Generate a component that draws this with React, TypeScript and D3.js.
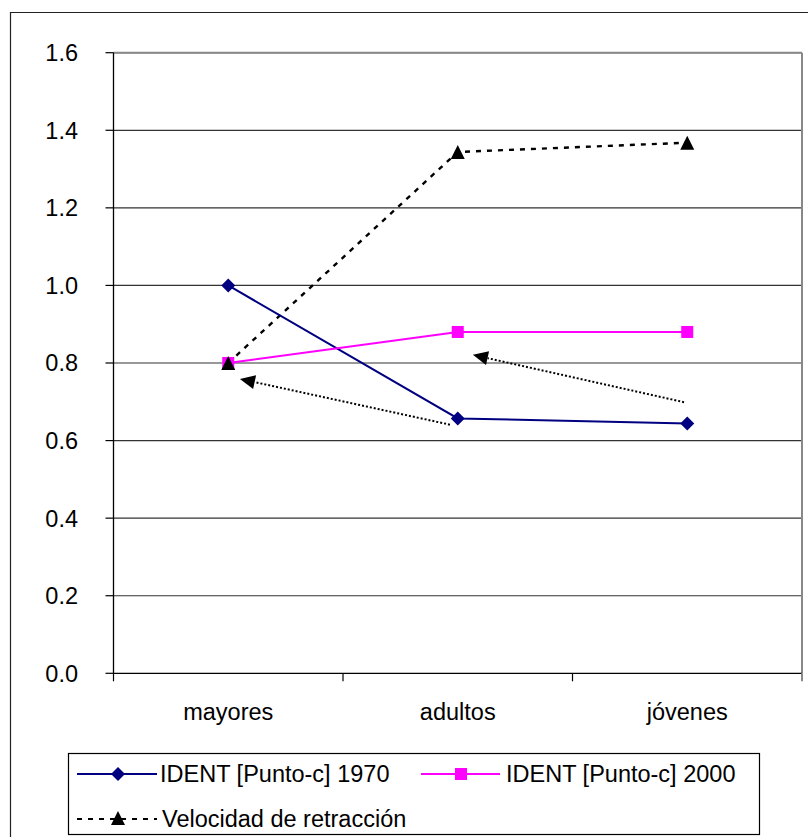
import React from 'react';
import * as d3 from 'd3';

const categories = ['mayores', 'adultos', 'jóvenes'];
const ident1970 = [1.0, 0.657, 0.644];
const ident2000 = [0.8, 0.88, 0.88];
const velocidad = [0.8, 1.344, 1.368];
const yTicks = [0, 0.2, 0.4, 0.6, 0.8, 1.0, 1.2, 1.4, 1.6];
const seriesNames = ['IDENT [Punto-c] 1970', 'IDENT [Punto-c] 2000', 'Velocidad de retracción'];
// annotation arrows in data space (x = category index, y = value)
const arrows = [
  { x1: 0.966, y1: 0.641, x2: 0.051, y2: 0.759 },
  { x1: 1.986, y1: 0.699, x2: 1.066, y2: 0.821 },
];

const W = 808;
const H = 837;
const left = 113.5;
const right = 802;
const top = 52.7;
const bottom = 673.3;
const FONT = '"Liberation Sans", Arial, sans-serif';
const FS = 23.5;

function Diamond({ cx, cy, r, fill }: { cx: number; cy: number; r: number; fill: string }) {
  return <path d={`M${cx},${cy - r}L${cx + r},${cy}L${cx},${cy + r}L${cx - r},${cy}Z`} fill={fill} />;
}
function Square({ cx, cy, s, fill }: { cx: number; cy: number; s: number; fill: string }) {
  return <rect x={cx - s / 2} y={cy - s / 2} width={s} height={s} fill={fill} />;
}
function Tri({ cx, cy, s, fill }: { cx: number; cy: number; s: number; fill: string }) {
  return <path d={`M${cx},${cy - s / 2}L${cx + s / 2},${cy + s / 2}L${cx - s / 2},${cy + s / 2}Z`} fill={fill} />;
}

export default function App() {
  const x = d3.scaleBand<string>().domain(categories).range([left, right]);
  const bw = x.bandwidth();
  const cxOf = (c: string) => (x(c) as number) + bw / 2;
  const xi = d3.scaleLinear().domain([0, 2]).range([cxOf(categories[0]), cxOf(categories[2])]);
  const y = d3.scaleLinear().domain([0, 1.6]).range([bottom, top]);
  const line = d3
    .line<number>()
    .x((_, i) => cxOf(categories[i]))
    .y((d) => y(d));

  const boundaries = [left, ...categories.map((c) => (x(c) as number) + bw)];

  return (
    <svg
      width={W}
      height={H}
      style={{ position: 'absolute', left: 0, top: 0, background: '#fff' }}
      fontFamily={FONT}
    >
      <rect x={0} y={0} width={W} height={H} fill="#fff" />
      {/* outer frame */}
      <path d={`M10.5,${H + 5}V12.5H${W + 5}`} fill="none" stroke="#222" strokeWidth={1.2} />

      {/* gridlines */}
      {yTicks.slice(1).map((t) => (
        <line key={t} x1={left} x2={right} y1={y(t)} y2={y(t)} stroke="#333" strokeWidth={1.2} />
      ))}
      {/* plot border */}
      <line x1={left} x2={right} y1={top} y2={top} stroke="#888" strokeWidth={2} />
      <line x1={right} x2={right} y1={top} y2={bottom} stroke="#888" strokeWidth={2} />

      {/* y axis */}
      <line x1={left} x2={left} y1={top} y2={bottom} stroke="#000" strokeWidth={1.3} />
      {yTicks.map((t) => (
        <g key={t}>
          <line x1={left - 8} x2={left} y1={y(t)} y2={y(t)} stroke="#000" strokeWidth={1.2} />
          <text x={78} y={y(t)} dy="0.36em" textAnchor="end" fontSize={FS} fill="#000">
            {t.toFixed(1)}
          </text>
        </g>
      ))}
      {/* x axis */}
      <line x1={left} x2={right} y1={bottom} y2={bottom} stroke="#000" strokeWidth={1.3} />
      {boundaries.map((b, i) => (
        <line key={i} x1={b} x2={b} y1={bottom} y2={bottom + 8} stroke={i === 3 ? '#888' : '#000'} strokeWidth={i === 3 ? 2 : 1.2} />
      ))}
      {categories.map((c) => (
        <text key={c} x={cxOf(c)} y={720} textAnchor="middle" fontSize={FS} fill="#000">
          {c}
        </text>
      ))}

      {/* annotation arrows */}
      {arrows.map((a, i) => {
        const x1 = xi(a.x1), y1 = y(a.y1), x2 = xi(a.x2), y2 = y(a.y2);
        const dx = x2 - x1, dy = y2 - y1;
        const len = Math.hypot(dx, dy);
        const ux = dx / len, uy = dy / len;
        const L = 15, hw = 7;
        const bx = x2 - ux * L, by = y2 - uy * L;
        const px = -uy, py = ux;
        return (
          <g key={i}>
            <line x1={x1} y1={y1} x2={bx} y2={by} stroke="#000" strokeWidth={2} strokeDasharray="2,2" />
            <path d={`M${x2},${y2}L${bx + px * hw},${by + py * hw}L${bx - px * hw},${by - py * hw}Z`} fill="#000" />
          </g>
        );
      })}

      {/* series */}
      <path d={line(velocidad) as string} fill="none" stroke="#000" strokeWidth={2.4} strokeDasharray="5,6" />
      <path d={line(ident1970) as string} fill="none" stroke="#000080" strokeWidth={2} />
      <path d={line(ident2000) as string} fill="none" stroke="#FF00FF" strokeWidth={2} />
      {ident1970.map((v, i) => (
        <Diamond key={i} cx={cxOf(categories[i])} cy={y(v)} r={7} fill="#000080" />
      ))}
      {ident2000.map((v, i) => (
        <Square key={i} cx={cxOf(categories[i])} cy={y(v)} s={12} fill="#FF00FF" />
      ))}
      {velocidad.map((v, i) => (
        <Tri key={i} cx={cxOf(categories[i])} cy={y(v)} s={14} fill="#000" />
      ))}

      {/* legend */}
      <rect x={68.5} y={753.5} width={691} height={81} fill="#fff" stroke="#000" strokeWidth={1.2} />
      <line x1={77} x2={157} y1={774} y2={774} stroke="#000080" strokeWidth={2} />
      <Diamond cx={118} cy={774} r={7} fill="#000080" />
      <text x={160} y={782} fontSize={FS} fill="#000">{seriesNames[0]}</text>
      <line x1={421} x2={500} y1={774} y2={774} stroke="#FF00FF" strokeWidth={2} />
      <Square cx={461} cy={774} s={12} fill="#FF00FF" />
      <text x={506} y={782} fontSize={FS} fill="#000">{seriesNames[1]}</text>
      <line x1={77} x2={157} y1={819} y2={819} stroke="#000" strokeWidth={2.2} strokeDasharray="5,6" />
      <Tri cx={118} cy={818} s={14} fill="#000" />
      <text x={162} y={827} fontSize={FS} fill="#000">{seriesNames[2]}</text>
    </svg>
  );
}
